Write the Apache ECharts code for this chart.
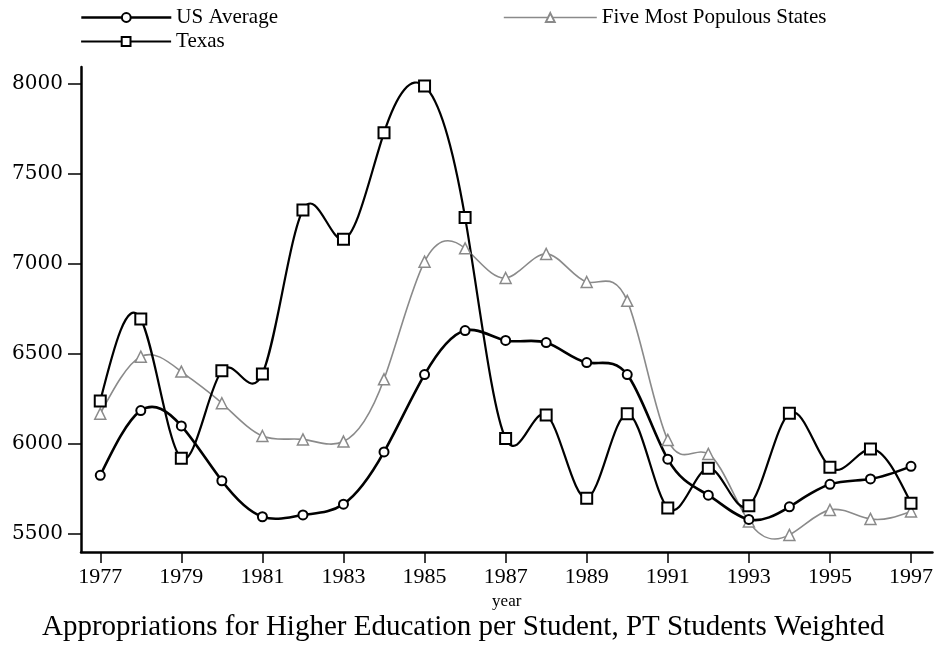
<!DOCTYPE html>
<html>
<head>
<meta charset="utf-8">
<script src="https://cdn.jsdelivr.net/npm/echarts@6/dist/echarts.min.js"></script>
<style>html,body{margin:0;padding:0;background:#fff;}#c{width:936px;height:647px;}</style>
</head>
<body>
<div id="c"></div>
<script>
var years = [1977,1978,1979,1980,1981,1982,1983,1984,1985,1986,1987,1988,1989,1990,1991,1992,1993,1994,1995,1996,1997];
var usAverage = [5825,6185,6100,5795,5595,5605,5665,5955,6385,6630,6575,6563,6452,6385,5915,5715,5580,5650,5775,5805,5875];
var fiveMost = [6168,6485,6402,6226,6044,6025,6013,6359,7013,7087,6922,7056,6900,6795,6022,5944,5568,5494,5633,5583,5624];
var texas = [6239,6694,5920,6407,6389,7300,7137,7730,7989,7259,6030,6161,5698,6167,5643,5865,5656,6170,5870,5972,5670];
var xTicks = [1977,1979,1981,1983,1985,1987,1989,1991,1993,1995,1997];
var yTicks = [5500,6000,6500,7000,7500,8000];
var titleText = 'Appropriations for Higher Education per Student, PT Students Weighted';

function pairs(vals){ return years.map(function(y,i){ return [y, vals[i]]; }); }

// natural cubic spline second derivatives (unit spacing in years)
function splineM(y){
  var n = y.length - 1, M = new Array(n+1).fill(0);
  if (n < 2) return M;
  var a = [], b = [], c = [], d = [];
  for (var i = 1; i < n; i++){ a.push(1); b.push(4); c.push(1); d.push(6*(y[i+1]-2*y[i]+y[i-1])); }
  var m = d.length;
  for (var k = 1; k < m; k++){ var w = a[k]/b[k-1]; b[k] -= w*c[k-1]; d[k] -= w*d[k-1]; }
  var sol = new Array(m); sol[m-1] = d[m-1]/b[m-1];
  for (var k2 = m-2; k2 >= 0; k2--) sol[k2] = (d[k2]-c[k2]*sol[k2+1])/b[k2];
  for (var j = 0; j < m; j++) M[j+1] = sol[j];
  return M;
}

function curveSeries(name, vals, color, width){
  var M = splineM(vals);
  return {
    name: name + ' curve', type: 'custom', silent: true, z: 1,
    data: pairs(vals), encode: {x: 0, y: 1},
    renderItem: function(params, api){
      var i = params.dataIndex;
      if (i >= vals.length - 1) return null;
      var x0 = years[i], x1 = years[i+1], h = x1 - x0;
      var y0 = vals[i], y1 = vals[i+1];
      var s = (y1 - y0)/h;
      var d0 = s - h*(2*M[i] + M[i+1])/6;
      var d1 = s + h*(M[i] + 2*M[i+1])/6;
      var p0 = api.coord([x0, y0]);
      var p1 = api.coord([x1, y1]);
      var c0 = api.coord([x0 + h/3, y0 + d0*h/3]);
      var c1 = api.coord([x1 - h/3, y1 - d1*h/3]);
      return {
        type: 'bezierCurve',
        shape: {x1: p0[0], y1: p0[1], x2: p1[0], y2: p1[1], cpx1: c0[0], cpy1: c0[1], cpx2: c1[0], cpy2: c1[1]},
        style: {stroke: color, lineWidth: width, fill: null}
      };
    }
  };
}

var serif = 'Liberation Serif';
var legendText = {fontFamily: serif, fontSize: 21, color: '#000'};
var chart = echarts.init(document.getElementById('c'), null, {renderer:'canvas'});
chart.setOption({
  animation: false,
  backgroundColor: '#fff',
  title: {
    text: titleText, left: 37, top: 608,
    textStyle: {fontFamily: serif, fontSize: 29, fontWeight: 'normal', color: '#000'}
  },
  legend: [
    {data: [{name: 'US Average', lineStyle: {opacity: 1, color: '#000', width: 2.6}}],
     left: 80, top: 7, padding: 0, itemWidth: 90, itemHeight: 11, textStyle: legendText},
    {data: [{name: 'Texas', lineStyle: {opacity: 1, color: '#000', width: 2.2}}],
     left: 80, top: 31, padding: 0, itemWidth: 90, itemHeight: 11, textStyle: legendText},
    {data: [{name: 'Five Most Populous States', lineStyle: {opacity: 1, color: '#8a8a8a', width: 1.6}}],
     left: 503, top: 7, padding: 0, itemWidth: 93, itemHeight: 11, textStyle: legendText}
  ],
  grid: {left: 81, right: 1, top: 67, bottom: 95},
  xAxis: {
    type: 'value', min: 1976.525, max: 1997.53,
    name: 'year', nameLocation: 'middle', nameGap: 41,
    nameTextStyle: {fontFamily: serif, fontSize: 17, color: '#000'},
    axisLine: {lineStyle: {color: '#000', width: 2.5}},
    axisTick: {customValues: xTicks, length: 11, lineStyle: {color: '#000', width: 1.5}},
    axisLabel: {customValues: xTicks, formatter: function(v){ return String(v); },
                fontFamily: serif, fontSize: 22, color: '#000', margin: 14},
    splitLine: {show: false}
  },
  yAxis: {
    type: 'value', min: 5399, max: 8095,
    axisLine: {show: true, lineStyle: {color: '#000', width: 2.5}},
    axisTick: {show: true, customValues: yTicks, length: 13, lineStyle: {color: '#000', width: 1.5}},
    axisLabel: {customValues: yTicks, formatter: function(v){ return String(v); },
                fontFamily: 'DejaVu Serif', fontSize: 20, color: '#000', margin: 18},
    splitLine: {show: false}
  },
  series: [
    curveSeries('Five Most Populous States', fiveMost, '#8a8a8a', 1.6),
    curveSeries('US Average', usAverage, '#000', 2.6),
    curveSeries('Texas', texas, '#000', 2.2),
    {name: 'Five Most Populous States', type: 'line', data: pairs(fiveMost),
     symbol: 'triangle', symbolSize: 11, z: 5,
     lineStyle: {color: '#8a8a8a', width: 1.6, opacity: 0},
     itemStyle: {color: '#fff', borderColor: '#8a8a8a', borderWidth: 1.5}},
    {name: 'US Average', type: 'line', data: pairs(usAverage),
     symbol: 'circle', symbolSize: 9, z: 6,
     lineStyle: {color: '#000', width: 2.6, opacity: 0},
     itemStyle: {color: '#fff', borderColor: '#000', borderWidth: 2}},
    {name: 'Texas', type: 'line', data: pairs(texas),
     symbol: 'rect', symbolSize: 11, z: 7,
     lineStyle: {color: '#000', width: 2.2, opacity: 0},
     itemStyle: {color: '#fff', borderColor: '#000', borderWidth: 2}}
  ]
});
</script>
</body>
</html>
